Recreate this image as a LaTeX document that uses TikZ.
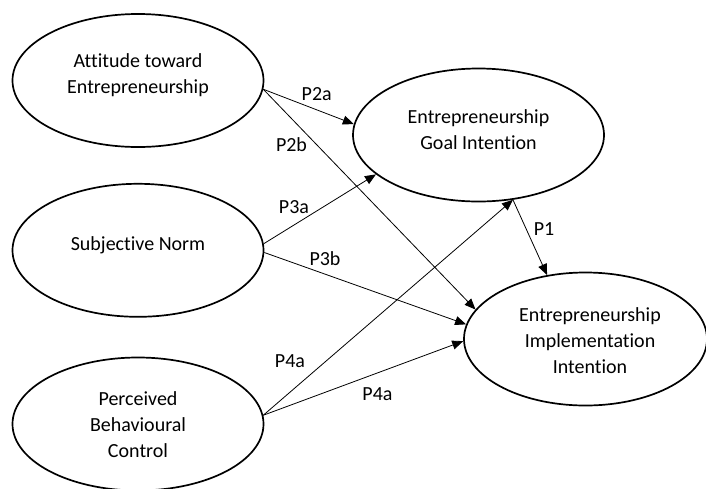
\documentclass[tikz,border=0pt]{standalone}
\usepackage{fontspec}
\setmainfont{Carlito}[Ligatures={NoCommon,NoContextual}]
\usetikzlibrary{arrows.meta,shapes.geometric}
\begin{document}
\begin{tikzpicture}[x=1pt,y=1pt,
  construct/.style={ellipse, draw, line width=1.7pt, inner sep=0pt, minimum height=133pt},
  ctext/.style={align=center, inner sep=0pt, font=\fontsize{20}{26}\selectfont},
  hyp/.style={draw, line width=0.8pt, -{Triangle[length=11pt,width=9pt]}},
  plabel/.style={anchor=base, inner sep=0pt, font=\fontsize{20}{24}\selectfont}]
\useasboundingbox (0,0) rectangle (706,-488);
\clip (0,0) rectangle (706,-488);
% constructs
\node[construct, minimum width=251pt] (att)  at (138,-80.5) {};
\node[construct, minimum width=251pt] (sn)   at (138,-250.3) {};
\node[construct, minimum width=251pt] (pbc)  at (138,-424) {};
\node[construct, minimum width=251pt] (goal) at (478.5,-135) {};
\node[construct, minimum width=243pt] (impl) at (585.5,-339) {};
% texts
\node[ctext] (att-t)  at ([yshift=5.5pt]att.center) {Attitude toward\\Entrepreneurship};
\node[ctext] (sn-t)   at ([yshift=5pt]sn.center) {Subjective Norm};
\node[ctext] (pbc-t)  at ([yshift=-0.5pt]pbc.center) {Perceived\\Behavioural\\Control};
\node[ctext] (goal-t) at ([yshift=5.5pt]goal.center) {Entrepreneurship\\Goal Intention};
\node[ctext] (impl-t) at ([xshift=4.5pt,yshift=-1.5pt]impl.center) {Entrepreneurship\\Implementation\\Intention};
% hypotheses
\draw[hyp] (att.-4.3) -- (goal.175.3);
\draw[hyp] (att.-4.3) -- (impl.165.1);
\draw[hyp] (sn.3.2) -- (goal.201.9);
\draw[hyp] (sn.-1.4) -- (impl.173.4);
\draw[hyp] (pbc.4.4) -- (goal.-62.9);
\draw[hyp] (pbc.4.4) -- (impl.181.9);
\draw[hyp] (goal.-62.9) -- (impl.121.9);
% labels
\node[plabel] (l2a) at (316.7,-100) {P2a};
\node[plabel] (l2b) at (291.5,-151.7) {P2b};
\node[plabel] (l3a) at (294,-213) {P3a};
\node[plabel] (l3b) at (325,-265) {P3b};
\node[plabel] (l4a) at (290,-367) {P4a};
\node[plabel] (l4b) at (377.5,-400) {P4a};
\node[plabel] (l1)  at (544,-235) {P1};
\end{tikzpicture}
\end{document}
